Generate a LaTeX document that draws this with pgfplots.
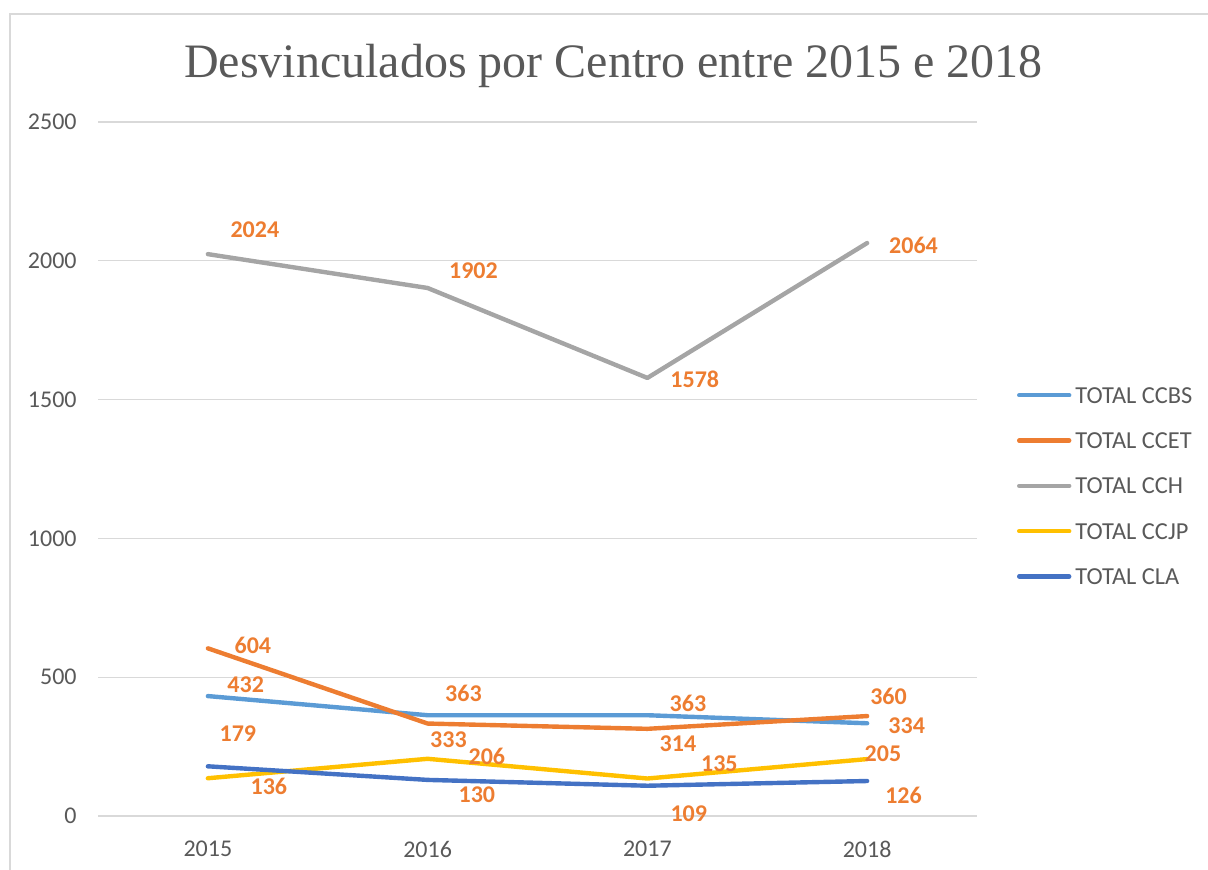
\documentclass[border=0pt]{standalone}
\usepackage{pgfplots}
\pgfplotsset{compat=1.18}
\usepackage{fontspec}
\setmainfont{Carlito}
\newfontfamily\titlefont{Liberation Serif}
\definecolor{cbs}{HTML}{5B9BD5}
\definecolor{cet}{HTML}{ED7D31}
\definecolor{cch}{HTML}{A5A5A5}
\definecolor{cjp}{HTML}{FFC000}
\definecolor{cla}{HTML}{4472C4}
\definecolor{txtgray}{HTML}{595959}
\definecolor{gridgray}{HTML}{D9D9D9}
\definecolor{lblorange}{HTML}{ED7D31}
\pgfplotsset{/pgf/number format/.cd, 1000 sep={}, assume math mode=true}
\begin{document}
\begin{tikzpicture}
\path[use as bounding box] (0,0) rectangle (604pt,435pt);
\draw[color=gridgray, line width=1pt] (5pt,-5pt) -- (5pt,428pt) -- (610pt,428pt);
\node[font=\titlefont\fontsize{24}{24}\selectfont, text=txtgray, anchor=base, inner sep=0pt] at (306.75pt,396pt) {Desvinculados por Centro entre 2015 e 2018};
\begin{axis}[
  scale only axis,
  width=439.5pt, height=347pt,
  at={(49pt,27pt)}, anchor=south west,
  xmin=2014.5, xmax=2018.5,
  ymin=0, ymax=2500,
  xtick={2015,2016,2017,2018},
  ytick={0,500,1000,1500,2000,2500},
  axis line style={draw=none},
  tick style={draw=none},
  major tick length=0pt,
  ymajorgrids,
  grid style={color=gridgray, line width=0.6pt},
  tick label style={font=\fontsize{12}{12}\selectfont, text=txtgray},
  yticklabel style={inner sep=0pt, xshift=-10.5pt},
  xticklabel style={inner sep=0pt, yshift=-12.5pt},
  clip=false,
  every axis plot/.append style={line width=2.2pt, line cap=round, line join=round, mark=none},
  nodes near coords,
  visualization depends on={value \thisrow{dx} \as \dx},
  visualization depends on={value \thisrow{dy} \as \dy},
  nodes near coords style={anchor=center, inner sep=0pt, xshift=\dx pt, yshift=\dy pt, font=\bfseries\fontsize{12}{12}\selectfont, text=lblorange},
  legend style={draw=none, fill=none, at={(1.04551,0.4757)}, anchor=west, inner sep=0pt, outer sep=0pt,
    cells={anchor=west}, nodes={inner sep=0pt, text height=8pt, text depth=0pt},
    row sep=14.65pt, column sep=2pt, font=\fontsize{12.2}{12.2}\selectfont, text=txtgray},
  legend image code/.code={\draw[#1] (1pt,0pt) -- (26pt,0pt);},
]
\addplot[color=cbs] table {
x y dx dy
2015 432 18.9 5.9
2016 363 17.9 11
2017 363 20.3 6
2018 334 19.8 -1.2
};
\addlegendentry{TOTAL CCBS}
\addplot[color=cet] table {
x y dx dy
2015 604 22.5 1.7
2016 333 10.4 -8.2
2017 314 15.3 -7.3
2018 360 10.7 9.7
};
\addlegendentry{TOTAL CCET}
\addplot[color=cch] table {
x y dx dy
2015 2024 23.5 12
2016 1902 22.9 8.5
2017 1578 23.7 -0.7
2018 2064 23.2 -1
};
\addlegendentry{TOTAL CCH}
\addplot[color=cjp] table {
x y dx dy
2015 136 30.5 -4.3
2016 206 29.6 1
2017 135 36 7.6
2018 205 7.9 2.9
};
\addlegendentry{TOTAL CCJP}
\addplot[color=cla] table {
x y dx dy
2015 179 15 16.2
2016 130 24.6 -7.6
2017 109 20.7 -13.8
2018 126 18.2 -7
};
\addlegendentry{TOTAL CLA}
\end{axis}
\end{tikzpicture}
\end{document}
